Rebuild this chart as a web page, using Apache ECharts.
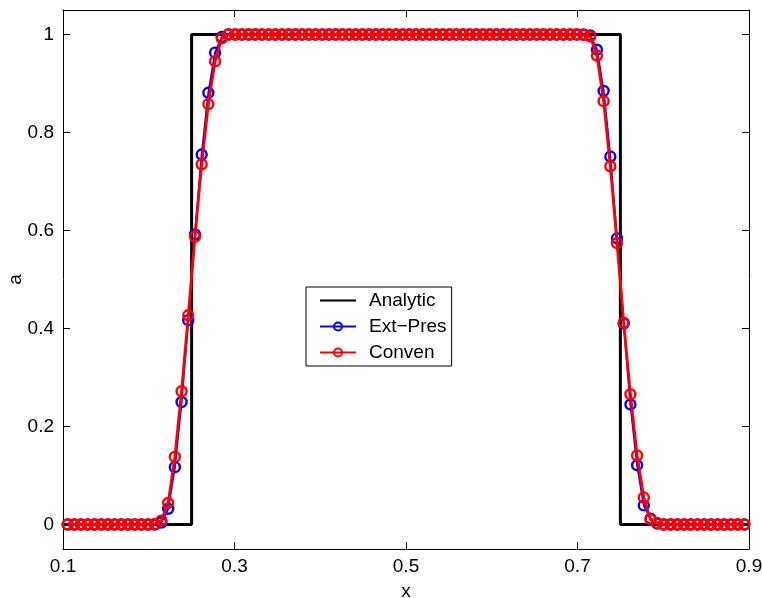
<!DOCTYPE html>
<html>
<head>
<meta charset="utf-8">
<script src="https://cdn.jsdelivr.net/npm/echarts@6/dist/echarts.min.js"></script>
<style>html,body{margin:0;padding:0;background:#fff}#c{width:762px;height:598px}</style>
</head>
<body>
<div id="c"></div>
<script>
var xs = [0.10547,0.11328,0.12109,0.12891,0.13672,0.14453,0.15234,0.16016,0.16797,0.17578,
0.18359,0.19141,0.19922,0.20703,0.21484,0.22266,0.23047,0.23828,0.24609,0.25391,
0.26172,0.26953,0.27734,0.28516,0.29297,0.30078,0.30859,0.31641,0.32422,0.33203,
0.33984,0.34766,0.35547,0.36328,0.37109,0.37891,0.38672,0.39453,0.40234,0.41016,
0.41797,0.42578,0.43359,0.44141,0.44922,0.45703,0.46484,0.47266,0.48047,0.48828,
0.49609,0.50391,0.51172,0.51953,0.52734,0.53516,0.54297,0.55078,0.55859,0.56641,
0.57422,0.58203,0.58984,0.59766,0.60547,0.61328,0.62109,0.62891,0.63672,0.64453,
0.65234,0.66016,0.66797,0.67578,0.68359,0.69141,0.69922,0.70703,0.71484,0.72266,
0.73047,0.73828,0.74609,0.75391,0.76172,0.76953,0.77734,0.78516,0.79297,0.80078,
0.80859,0.81641,0.82422,0.83203,0.83984,0.84766,0.85547,0.86328,0.87109,0.87891,
0.88672,0.89453];

var extPres = [0,0,0,0,0,0,0,0,0,0,
0,0,0,0.000,0.004,0.032,0.117,0.250,0.417,0.592,
0.755,0.881,0.963,0.995,1,1,1,1,1,1,
1,1,1,1,1,1,1,1,1,1,
1,1,1,1,1,1,1,1,1,1,
1,1,1,1,1,1,1,1,1,1,
1,1,1,1,1,1,1,1,1,1,
1,1,1,1,1,1,1,1.000,0.998,0.969,
0.885,0.751,0.584,0.410,0.245,0.121,0.039,0.012,0.002,0,
0,0,0,0,0,0,0,0,0,0,
0,0];

var conven = [0,0,0,0,0,0,0,0,0,0,
0,0,0,0.001,0.008,0.044,0.138,0.272,0.427,0.587,
0.735,0.858,0.945,0.992,1,1,1,1,1,1,
1,1,1,1,1,1,1,1,1,1,
1,1,1,1,1,1,1,1,1,1,
1,1,1,1,1,1,1,1,1,1,
1,1,1,1,1,1,1,1,1,1,
1,1,1,1,1,1,1,0.999,0.996,0.957,
0.864,0.731,0.574,0.412,0.266,0.141,0.055,0.010,0.003,0,
0,0,0,0,0,0,0,0,0,0,
0,0];

var analyticX = [0.1,0.25,0.25,0.75,0.75,0.9];
var analyticY = [0,0,1,1,0,0];

var xTicks = [0.1,0.3,0.5,0.7,0.9];
var yTicks = [0,0.2,0.4,0.6,0.8,1];

function pairs(a,b){var r=[];for(var i=0;i<a.length;i++)r.push([a[i],b[i]]);return r;}

var FONT = "'Liberation Sans', Arial, sans-serif";
var chart = echarts.init(document.getElementById('c'), null, {renderer:'canvas'});

function xAx(pos, show){
  return {type:'value', position:pos, min:0.1, max:0.9,
    axisLine:{show:true,onZero:false,lineStyle:{color:'#000',width:1}},
    axisTick:{show:true,inside:true,length:7,customValues:xTicks,lineStyle:{color:'#000'}},
    axisLabel:{show:show,customValues:xTicks,color:'#000',fontSize:19,fontFamily:FONT,margin:8,
      formatter:function(v){return String(+v.toFixed(1));}},
    splitLine:{show:false},
    name: show?'x':'', nameLocation:'middle', nameGap:33, nameMoveOverlap:false,
    nameTextStyle:{color:'#000',fontSize:19,fontFamily:FONT}};
}
function yAx(pos, show){
  return {type:'value', position:pos, min:-0.05, max:1.05,
    axisLine:{show:true,onZero:false,lineStyle:{color:'#000',width:1}},
    axisTick:{show:true,inside:true,length:7,customValues:yTicks,lineStyle:{color:'#000'}},
    axisLabel:{show:show,customValues:yTicks,color:'#000',fontSize:19,fontFamily:FONT,margin:9,
      formatter:function(v){return String(+v.toFixed(1));}},
    splitLine:{show:false},
    name: show?'a':'', nameLocation:'middle', nameGap:38, nameMoveOverlap:false,
    nameTextStyle:{color:'#000',fontSize:19,fontFamily:FONT}};
}

chart.setOption({
  animation:false,
  backgroundColor:'#fff',
  grid:{left:63,right:13,top:10,bottom:49,containLabel:false,outerBoundsMode:'none'},
  xAxis:[xAx('bottom',true), xAx('top',false)],
  yAxis:[yAx('left',true), yAx('right',false)],
  legend:{
    left:306, top:287, orient:'vertical',
    backgroundColor:'#fff', borderColor:'#000', borderWidth:1, borderRadius:0,
    padding:[4,5,4,13],
    itemWidth:36, itemHeight:10, itemGap:7,
    textStyle:{color:'#000',fontSize:19,fontFamily:FONT,padding:[0,0,0,8]},
    data:[{name:'Analytic',itemStyle:{color:'rgba(0,0,0,0)',borderWidth:0}},
          {name:'Ext\u2212Pres'},{name:'Conven'}]
  },
  series:[
    {name:'Analytic', type:'line', xAxisIndex:0, yAxisIndex:0, data:pairs(analyticX,analyticY),
      showSymbol:false, symbol:'none', lineStyle:{color:'#000',width:3}, itemStyle:{color:'#000'}, z:2},
    {name:'Ext\u2212Pres', type:'line', xAxisIndex:0, yAxisIndex:0, data:pairs(xs,extPres),
      symbol:'circle', symbolSize:10, showAllSymbol:true,
      lineStyle:{color:'#0000ff',width:2},
      itemStyle:{color:'rgba(0,0,0,0)',borderColor:'#0000ff',borderWidth:2.4}, z:3},
    {name:'Conven', type:'line', xAxisIndex:0, yAxisIndex:0, data:pairs(xs,conven),
      symbol:'circle', symbolSize:10, showAllSymbol:true,
      lineStyle:{color:'#ff0000',width:2.8},
      itemStyle:{color:'rgba(0,0,0,0)',borderColor:'#ff0000',borderWidth:2.4}, z:4}
  ]
});
</script>
</body>
</html>
